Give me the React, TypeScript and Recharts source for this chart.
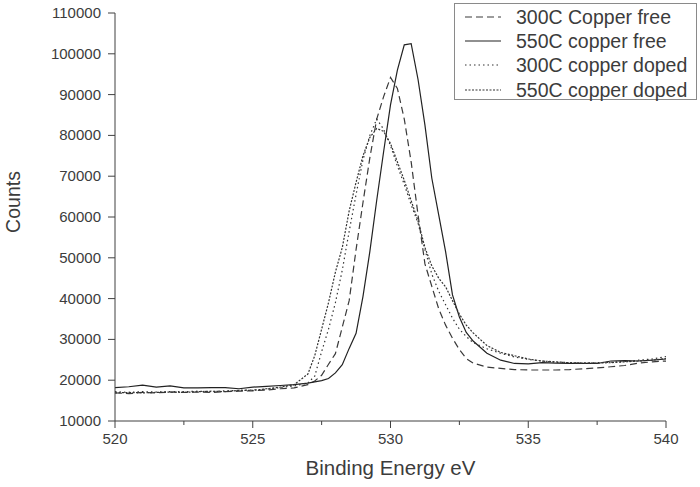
import React from 'react';
import { LineChart, Line, XAxis, YAxis, Legend } from 'recharts';

const energies = [520, 520.5, 521, 521.5, 522, 522.5, 523, 523.5, 524, 524.5, 525, 525.5, 526, 526.5, 527, 527.25, 527.5, 527.75, 528, 528.25, 528.5, 528.75, 529, 529.25, 529.5, 529.75, 530, 530.25, 530.5, 530.75, 531, 531.25, 531.5, 531.75, 532, 532.25, 532.5, 532.75, 533, 533.5, 534, 534.5, 535, 535.5, 536, 536.5, 537, 537.5, 538, 538.5, 539, 539.5, 540];

const free300 = [16900, 16700, 17000, 16900, 17100, 17000, 17100, 17000, 17200, 17300, 17400, 17600, 17900, 18100, 18900, 19800, 21200, 23900, 26500, 33000, 39500, 52000, 63500, 74500, 84000, 89500, 94200, 91500, 84000, 73500, 60500, 48500, 43000, 37500, 33500, 30300, 27500, 25300, 24200, 23200, 22900, 22600, 22500, 22500, 22500, 22600, 22800, 23000, 23300, 23600, 24200, 24500, 24700];

const free550 = [18200, 18400, 18800, 18300, 18600, 18100, 18100, 18200, 18200, 17900, 18300, 18500, 18700, 18900, 19300, 19600, 19900, 20400, 21800, 23800, 27800, 31500, 40500, 51500, 64100, 76000, 87500, 96000, 102200, 102500, 93700, 82500, 69500, 60500, 51500, 40900, 35500, 31700, 29600, 26600, 24900, 24100, 24000, 24300, 24200, 24100, 24100, 24100, 24700, 24800, 24700, 24900, 25200];

const doped300 = [17200, 17000, 17200, 17100, 17200, 17200, 17300, 17200, 17400, 17500, 17600, 17800, 18200, 18600, 19300, 21000, 27000, 32500, 39000, 47000, 56500, 65500, 74000, 80000, 84000, 81500, 77500, 72500, 68000, 63000, 58500, 52000, 46000, 41800, 38500, 35200, 32500, 30700, 29200, 27700, 26600, 25700, 25100, 24700, 24400, 24300, 24200, 24300, 24400, 24600, 24900, 25200, 25800];

const doped550 = [16900, 17000, 16900, 17000, 17100, 17000, 17200, 17300, 17200, 17500, 17500, 17900, 18300, 18900, 21500, 26000, 32500, 39000, 46500, 52500, 61500, 68500, 75000, 79500, 81700, 81000, 78000, 73500, 69000, 64000, 59000, 52500, 48000, 45000, 42900, 39500, 36200, 33500, 31600, 28500, 26800, 26000, 25200, 24700, 24500, 24300, 24200, 24200, 24300, 24500, 24700, 24900, 25300];

const xTicks = [520, 522.5, 525, 527.5, 530, 532.5, 535, 537.5, 540];
const yTicks = [10000, 15000, 20000, 25000, 30000, 35000, 40000, 45000, 50000, 55000, 60000, 65000, 70000, 75000, 80000, 85000, 90000, 95000, 100000, 105000, 110000];

const seriesNames = ['300C Copper free', '550C copper free', '300C copper doped', '550C copper doped'];
const seriesKeys = ['free300', 'free550', 'doped300', 'doped550'];
const seriesDash = ['7 4', '', '1.5 3', '2 1.5'];
const seriesColor = ['#3a3a3a', '#222222', '#333333', '#333333'];

const data = energies.map((e, i) => ({
  energy: e,
  free300: free300[i],
  free550: free550[i],
  doped300: doped300[i],
  doped550: doped550[i],
}));

const FONT = "'Liberation Sans', Arial, sans-serif";
const AXIS_COLOR = '#404040';
const TEXT_COLOR = '#3c3c3c';

const XTick = (props: any) => {
  const { x, y, payload } = props;
  const major = payload.value % 5 === 0;
  return (
    <g>
      <line x1={x} y1={y} x2={x} y2={y + (major ? 7 : 4)} stroke={AXIS_COLOR} strokeWidth={1} />
      {major && (
        <text x={x} y={y + 23} textAnchor="middle" fontSize={15} fontFamily={FONT} fill={TEXT_COLOR}>
          {payload.value}
        </text>
      )}
    </g>
  );
};

const YTick = (props: any) => {
  const { x, y, payload } = props;
  const major = payload.value % 10000 === 0;
  return (
    <g>
      <line x1={x} y1={y} x2={x - (major ? 7 : 4)} y2={y} stroke={AXIS_COLOR} strokeWidth={1} />
      {major && (
        <text x={x - 14} y={y + 5} textAnchor="end" fontSize={15} fontFamily={FONT} fill={TEXT_COLOR}>
          {payload.value}
        </text>
      )}
    </g>
  );
};

const CountsLabel = (props: any) => {
  const vb = props.viewBox || { x: 0, y: 13, width: 115, height: 408 };
  const cx = vb.x + 13;
  const cy = vb.y + vb.height / 2 - 15;
  return (
    <text
      x={cx}
      y={cy}
      transform={`rotate(-90 ${cx} ${cy})`}
      textAnchor="middle"
      dominantBaseline="central"
      fontSize={19.5}
      fontFamily={FONT}
      fill={TEXT_COLOR}
    >
      Counts
    </text>
  );
};

const XTitle = (props: any) => {
  const vb = props.viewBox || { x: 115, y: 421, width: 551, height: 60 };
  const cx = vb.x + vb.width / 2;
  return (
    <text x={cx} y={vb.y + 54} textAnchor="middle" fontSize={20.5} fontFamily={FONT} fill={TEXT_COLOR}>
      Binding Energy eV
    </text>
  );
};

const LegendBox = () => (
  <div
    style={{
      border: '1px solid #8a8a8a',
      background: '#fff',
      width: 241,
      height: 95,
      boxSizing: 'content-box',
      fontFamily: FONT,
      fontSize: 19.5,
      color: TEXT_COLOR,
    }}
  >
    {seriesNames.map((name, i) => (
      <div key={name} style={{ display: 'flex', alignItems: 'center', height: 24.2, marginTop: i === 0 ? 1 : 0 }}>
        <svg width={61} height={10} style={{ flex: 'none' }}>
          <line x1={10} y1={5} x2={46} y2={5} stroke={seriesColor[i]} strokeWidth={1.2} strokeDasharray={seriesDash[i] || undefined} />
        </svg>
        <span style={{ whiteSpace: 'nowrap', lineHeight: '24px' }}>{name}</span>
      </div>
    ))}
  </div>
);

export default function App() {
  return (
    <div style={{ position: 'absolute', left: 0, top: 0, width: 700, height: 487, background: '#fff' }}>
      <LineChart width={700} height={487} data={data} margin={{ top: 13, right: 34, left: 0, bottom: 6 }}>
        <XAxis
          dataKey="energy"
          type="number"
          domain={[520, 540]}
          ticks={xTicks}
          tick={<XTick />}
          tickSize={0}
          tickMargin={0}
          height={60}
          stroke={AXIS_COLOR}
          allowDataOverflow
          label={<XTitle />}
        />
        <YAxis
          type="number"
          domain={[10000, 110000]}
          ticks={yTicks}
          tick={<YTick />}
          tickSize={0}
          tickMargin={0}
          width={115}
          stroke={AXIS_COLOR}
          allowDataOverflow
          label={<CountsLabel />}
        />
        <Legend
          layout="vertical"
          align="center"
          verticalAlign="middle"
          content={<LegendBox />}
          wrapperStyle={{ position: 'absolute', left: 454, top: 3, width: 243, height: 97 }}
        />
        {seriesKeys.map((k, i) => (
          <Line
            key={k}
            dataKey={k}
            name={seriesNames[i]}
            type="linear"
            stroke={seriesColor[i]}
            strokeWidth={1.2}
            strokeDasharray={seriesDash[i] || undefined}
            dot={false}
            activeDot={false}
            isAnimationActive={false}
          />
        ))}
      </LineChart>
    </div>
  );
}
